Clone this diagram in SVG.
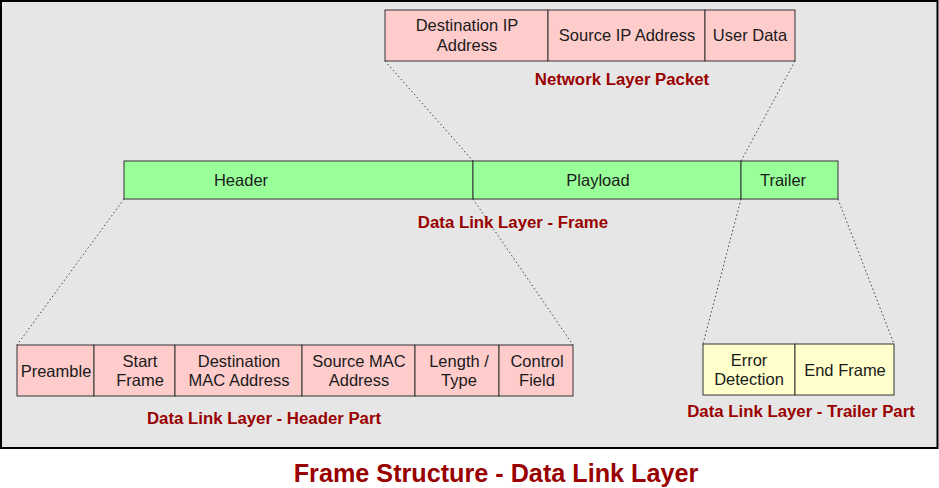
<svg xmlns="http://www.w3.org/2000/svg" width="939" height="488" viewBox="0 0 939 488">
<style>
.cell{stroke:#333;stroke-width:1}
.pink{fill:#ffcccc}
.green{fill:#99ff99}
.yellow{fill:#ffffcc}
.t{font-family:"Liberation Sans",Arial,sans-serif;font-size:16.5px;fill:#1a1a1a;text-anchor:middle}
.lbl{font-family:"Liberation Sans",Arial,sans-serif;font-size:16.8px;font-weight:bold;fill:#990000;text-anchor:middle}
.title{font-family:"Liberation Sans",Arial,sans-serif;font-size:25.2px;font-weight:bold;fill:#990000;text-anchor:middle}
.dot{stroke:#444;stroke-width:1;stroke-dasharray:1.5 2.5;fill:none}
</style>
<rect x="0" y="0" width="939" height="488" fill="#ffffff"/>
<rect x="1" y="1" width="936.5" height="447" fill="#e6e6e6" stroke="#000" stroke-width="2"/>
<g id="connectors">
<line class="dot" x1="385" y1="61" x2="473" y2="161"/>
<line class="dot" x1="795" y1="61" x2="741" y2="161"/>
<line class="dot" x1="124" y1="199" x2="17" y2="345"/>
<line class="dot" x1="473" y1="199" x2="573" y2="345"/>
<line class="dot" x1="741" y1="199" x2="703" y2="344"/>
<line class="dot" x1="838" y1="199" x2="894" y2="344"/>
</g>
<g id="network-packet">
<rect class="cell pink" x="385" y="10" width="163" height="51"/>
<rect class="cell pink" x="548" y="10" width="157" height="51"/>
<rect class="cell pink" x="705" y="10" width="90" height="51"/>
<text class="t" x="467" y="31">Destination IP</text>
<text class="t" x="467" y="51">Address</text>
<text class="t" x="627" y="41">Source IP Address</text>
<text class="t" x="750" y="41">User Data</text>
<text class="lbl" x="622" y="85">Network Layer Packet</text>
</g>
<g id="frame">
<rect class="cell green" x="124" y="161" width="349" height="38"/>
<rect class="cell green" x="473" y="161" width="268" height="38"/>
<rect class="cell green" x="741" y="161" width="97" height="38"/>
<text class="t" x="241" y="186">Header</text>
<text class="t" x="598" y="186">Playload</text>
<text class="t" x="783" y="186">Trailer</text>
<text class="lbl" x="513" y="228">Data Link Layer - Frame</text>
</g>
<g id="header-part">
<rect class="cell pink" x="17" y="345" width="77" height="51"/>
<rect class="cell pink" x="94" y="345" width="81" height="51"/>
<rect class="cell pink" x="175" y="345" width="127" height="51"/>
<rect class="cell pink" x="302" y="345" width="113" height="51"/>
<rect class="cell pink" x="415" y="345" width="84" height="51"/>
<rect class="cell pink" x="499" y="345" width="74" height="51"/>
<text class="t" x="56" y="377">Preamble</text>
<text class="t" x="140" y="367">Start</text>
<text class="t" x="140" y="386">Frame</text>
<text class="t" x="239" y="367">Destination</text>
<text class="t" x="239" y="386">MAC Address</text>
<text class="t" x="359" y="367">Source MAC</text>
<text class="t" x="359" y="386">Address</text>
<text class="t" x="459" y="367">Length /</text>
<text class="t" x="459" y="386">Type</text>
<text class="t" x="537" y="367">Control</text>
<text class="t" x="537" y="386">Field</text>
<text class="lbl" x="264" y="424">Data Link Layer - Header Part</text>
</g>
<g id="trailer-part">
<rect class="cell yellow" x="703" y="344" width="92" height="51"/>
<rect class="cell yellow" x="795" y="344" width="99" height="51"/>
<text class="t" x="749" y="366">Error</text>
<text class="t" x="749" y="385">Detection</text>
<text class="t" x="845" y="376">End Frame</text>
<text class="lbl" x="801" y="417">Data Link Layer - Trailer Part</text>
</g>
<text class="title" x="496" y="482">Frame Structure - Data Link Layer</text>
</svg>
